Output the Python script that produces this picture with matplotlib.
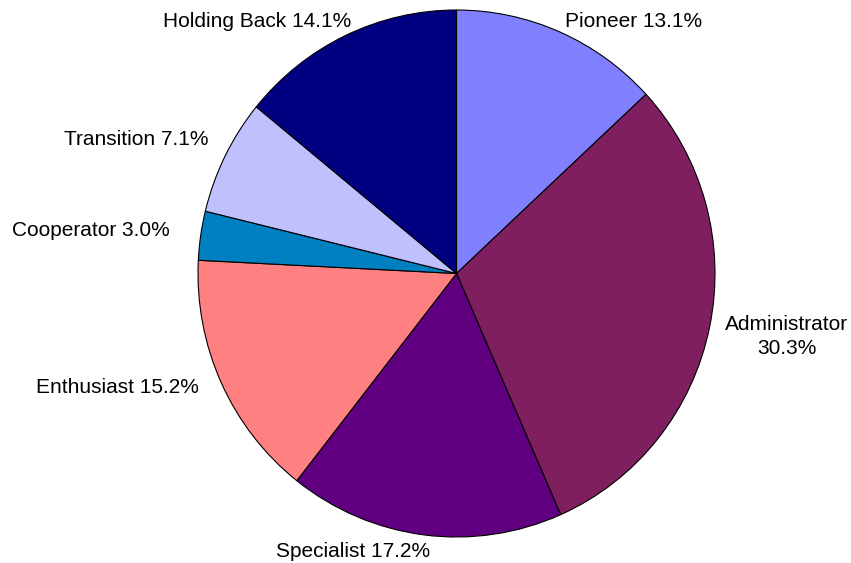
import matplotlib.pyplot as plt

labels = ['Pioneer', 'Administrator', 'Specialist', 'Enthusiast',
          'Cooperator', 'Transition', 'Holding Back']
shares = [13.1, 30.3, 17.2, 15.2, 3.0, 7.1, 14.1]
colors = ['#8080FF', '#7F1F5F', '#600080', '#FF8080',
          '#0080C0', '#C0C0FF', '#000080']
# small label nudges in pixels (right, down)
nudges = [(-3, 9), (-5, 5), (9, -4), (-4, -4), (-10, -2), (2, -7), (14, 5)]

plt.rcParams['font.family'] = ['Liberation Sans', 'DejaVu Sans']

fig = plt.figure(figsize=(8.51, 5.63), dpi=100)
# axes box matches the (slightly tall) ellipse of the original
ax = fig.add_axes([198 / 851, 1 - 537 / 563, 517 / 851, 527 / 563])

texts = [f'{n}\n{v:.1f}%' if n == 'Administrator' else f'{n} {v:.1f}%'
         for n, v in zip(labels, shares)]

wedges, lbls = ax.pie(shares, labels=texts, colors=colors, startangle=90,
                      counterclock=False, labeldistance=1.08,
                      wedgeprops=dict(edgecolor='black', linewidth=0.8),
                      textprops=dict(fontsize=15))
for t, (dx, dy) in zip(lbls, nudges):
    t.set_multialignment('center')
    t.set_linespacing(1.35)
    x, y = t.get_position()
    t.set_position((x + dx / 258.5, y - dy / 263.5))

ax.set_aspect('auto')
ax.set_xlim(-1, 1)
ax.set_ylim(-1, 1)

fig.savefig('out.png', dpi=100)
